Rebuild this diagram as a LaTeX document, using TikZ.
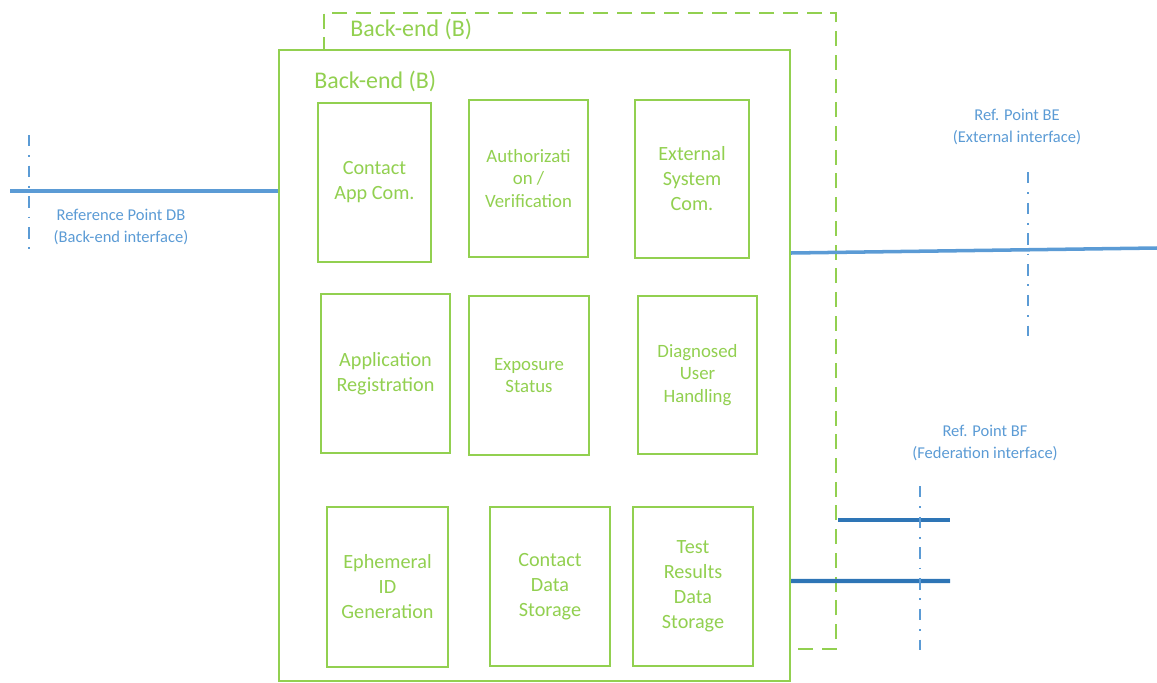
\documentclass[tikz,border=0pt]{standalone}
\usepackage{fontspec}
\setmainfont{Carlito}
\usepackage{xcolor}
\usetikzlibrary{positioning}
\definecolor{begreen}{RGB}{146,208,80}
\definecolor{ifblue}{RGB}{91,155,213}
\definecolor{ifdark}{RGB}{46,117,182}

\begin{document}
\begin{tikzpicture}[x=0.02cm, y=-0.02cm]
\tikzset{
  block/.style={draw=begreen, line width=1.1pt, text=begreen, align=center, inner sep=0pt,
    minimum width=2.4cm, minimum height=3.18cm, font=\fontsize{11.5}{14.2}\selectfont},
  smalltext/.style={font=\fontsize{10.7}{12.9}\selectfont},
  title/.style={text=begreen, anchor=west, inner sep=0pt, font=\fontsize{13.6}{16}\selectfont},
  iface/.style={draw=ifblue, line width=2pt},
  fed/.style={draw=ifdark, line width=2.4pt},
  refline/.style={draw=ifblue, line width=1.6pt, dash pattern=on 6.5pt off 5pt on 1pt off 5pt},
  reflabel/.style={text=ifblue, align=center, font=\fontsize{9.4}{12.8}\selectfont}
}
\useasboundingbox (0,0) rectangle (1157,683);

% back-end frames
\node[draw=begreen, line width=1.4pt, dash pattern=on 8.5pt off 5pt, minimum width=10.24cm, minimum height=12.72cm] (outer) at (580,331) {};
\node[draw=begreen, fill=white, line width=1.4pt, minimum width=10.22cm, minimum height=12.62cm] (be) at (534.5,365.5) {};
\node[title] (outertitle) at (350,29) {Back-end (B)};
\node[title] (betitle) at (314,81) {Back-end (B)};

% functional blocks
\node[block, minimum width=2.26cm] (contactapp) at (374.5,182.5) {Contact\\App Com.};
\node[block, smalltext, minimum width=2.38cm, minimum height=3.14cm] (auth) at (528.5,178.5) {Authorizati\\on /\\Verification};
\node[block, minimum width=2.28cm, minimum height=3.16cm] (external) at (692,179) {External\\System\\Com.};
\node[block, minimum width=2.58cm] (appreg) at (385.5,373.5) {Application\\Registration};
\node[block, smalltext] (exposure) at (529,375.5) {Exposure\\Status};
\node[block, smalltext, minimum width=2.38cm, minimum height=3.16cm] (diagnosed) at (697.5,375) {Diagnosed\\User\\Handling};
\node[block, minimum width=2.42cm, minimum height=3.2cm] (ephemeral) at (387.5,587) {Ephemeral\\ID\\Generation};
\node[block] (contactdata) at (550,586.5) {Contact\\Data\\Storage};
\node[block] (testresults) at (693,586.5) {Test\\Results\\Data\\Storage};

% reference point DB
\coordinate (dbend) at (10,191);
\coordinate (dbtop) at (29,135);
\coordinate (dbbot) at (29,250);
\draw[iface] (dbend) -- (dbend -| be.west);
\draw[refline] (dbtop) -- (dbbot);
\node[reflabel] (dblabel) at (121,227) {Reference Point DB\\(Back-end interface)};

% reference point BE
\coordinate (beend) at (1157,248);
\coordinate (betop) at (1028,172);
\coordinate (bebot) at (1028,336);
\draw[iface] (be.east) ++(0,-112.5) -- (beend);
\draw[refline] (betop) -- (bebot);
\node[reflabel] (belabel) at (1017,127) {Ref. Point BE\\(External interface)};

% reference point BF
\coordinate (bfend1) at (950,520);
\coordinate (bfend2) at (950,581);
\coordinate (bftop) at (920,486);
\coordinate (bfbot) at (920,650);
\draw[fed] (outer.east) ++(1,189) -- (bfend1);
\draw[fed] (be.east) ++(0,215.5) -- (bfend2);
\draw[refline] (bftop) -- (bfbot);
\node[reflabel] (bflabel) at (985,443) {Ref. Point BF\\(Federation interface)};
\end{tikzpicture}
\end{document}
